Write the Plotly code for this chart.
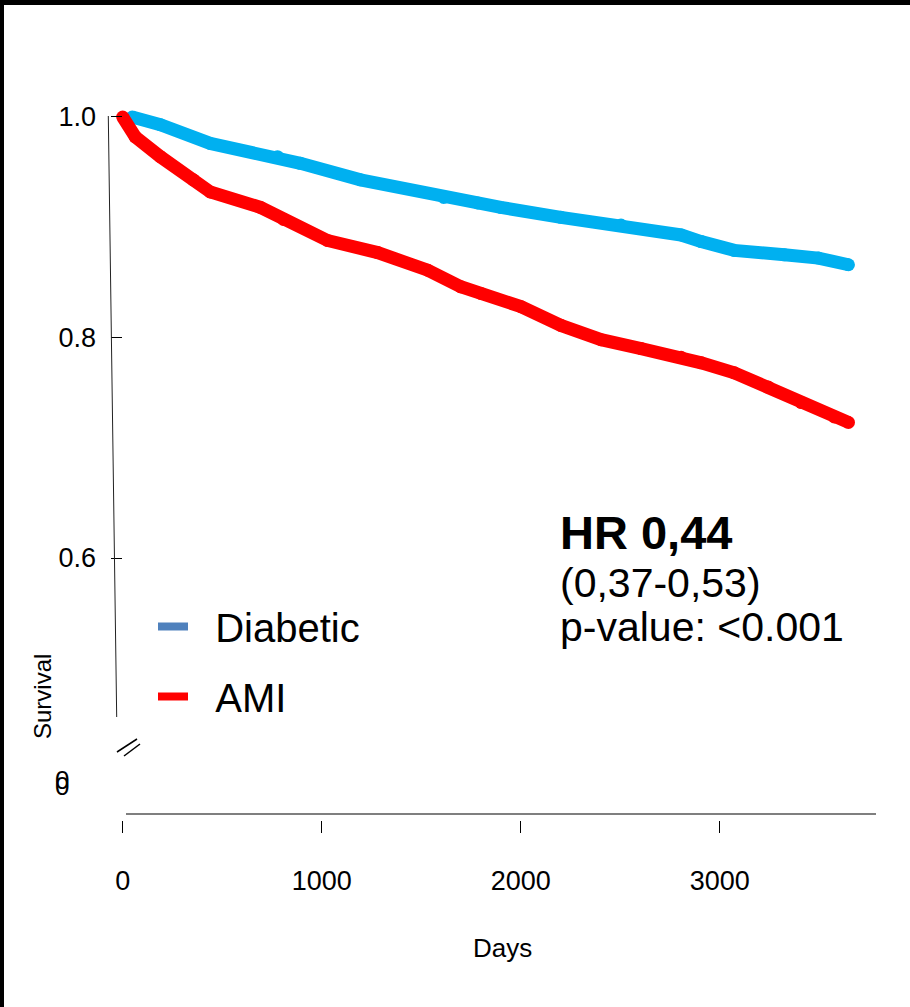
import plotly.graph_objects as go

# Kaplan-Meier style survival curves
days_diabetic = [48, 189, 440, 778, 893, 1195, 1613, 1784, 1900, 2202, 2504, 2806, 2907, 3073, 3325, 3496, 3647]
surv_diabetic = [1.000, 0.993, 0.976, 0.964, 0.958, 0.943, 0.927, 0.922, 0.918, 0.909, 0.902, 0.893, 0.887, 0.879, 0.875, 0.872, 0.866]

days_ami = [0, 63, 189, 355, 440, 692, 808, 1029, 1281, 1533, 1699, 1800, 2001, 2202, 2404, 2605, 2806, 2907, 3073, 3244, 3410, 3576, 3647]
surv_ami = [1.000, 0.982, 0.964, 0.943, 0.932, 0.918, 0.907, 0.888, 0.877, 0.861, 0.846, 0.840, 0.828, 0.811, 0.798, 0.790, 0.782, 0.777, 0.768, 0.755, 0.741, 0.728, 0.723]

x_ticks = [0, 1000, 2000, 3000]
y_ticks = [0.6, 0.8, 1.0]
y_tick_text = ["0.6", "0.8", "1.0"]

W, H = 910, 1007
FONT = "Arial, Liberation Sans, sans-serif"
BLUE = "#00B0F0"
RED = "#FF0000"
NBSP = "\u00a0"


def px(x):
    return x / W


def py(y):
    return 1 - y / H


fig = go.Figure()

fig.add_trace(go.Scatter(
    x=days_diabetic, y=surv_diabetic, mode="lines+markers",
    line=dict(color=BLUE, width=13), marker=dict(color=BLUE, size=13),
    showlegend=False, cliponaxis=False
))
fig.add_trace(go.Scatter(
    x=days_ami, y=surv_ami, mode="lines+markers",
    line=dict(color=RED, width=13), marker=dict(color=RED, size=13),
    showlegend=False, cliponaxis=False
))

# legend-only entries (legend swatch colours differ from the curves)
fig.add_trace(go.Scatter(
    x=[None], y=[None], mode="lines", name=NBSP * 2 + "Diabetic", legendgroup="a",
    line=dict(color="#4F81BD", width=8)
))
fig.add_trace(go.Scatter(
    x=[None], y=[None], mode="lines", name=NBSP * 2 + "AMI", legendgroup="b",
    line=dict(color=RED, width=8)
))

shapes = [
    # frame edges (top / left)
    dict(type="rect", xref="paper", yref="paper", x0=0, x1=1, y0=py(5), y1=1,
         fillcolor="black", line=dict(width=0)),
    dict(type="rect", xref="paper", yref="paper", x0=0, x1=px(4), y0=0, y1=1,
         fillcolor="black", line=dict(width=0)),
    # slanted y axis line
    dict(type="line", xref="paper", yref="paper", x0=px(108.3), y0=py(116), x1=px(116.7), y1=py(717),
         line=dict(color="#222", width=1)),
    # axis break marks
    dict(type="line", xref="paper", yref="paper", x0=px(117), y0=py(752), x1=px(137), y1=py(739),
         line=dict(color="black", width=1.5)),
    dict(type="line", xref="paper", yref="paper", x0=px(124), y0=py(756), x1=px(140), y1=py(744),
         line=dict(color="black", width=1.5)),
    # x axis line
    dict(type="line", xref="paper", yref="paper", x0=px(126), y0=py(814), x1=px(876), y1=py(814),
         line=dict(color="black", width=1.2)),
]

annotations = [
    dict(text="0", x=px(62), y=py(780), xref="paper", yref="paper", showarrow=False,
         xanchor="center", yanchor="middle", font=dict(size=26, color="black", family=FONT)),
    dict(text="0", x=px(62), y=py(786), xref="paper", yref="paper", showarrow=False,
         xanchor="center", yanchor="middle", font=dict(size=26, color="black", family=FONT)),
    dict(text="Days", x=px(502), y=py(948), xref="paper", yref="paper", showarrow=False,
         xanchor="center", yanchor="middle", font=dict(size=26, color="black", family=FONT)),
    dict(text="Survival", x=px(42), y=py(697), xref="paper", yref="paper", showarrow=False,
         textangle=-90, xanchor="center", yanchor="middle", font=dict(size=24, color="black", family=FONT)),
    dict(text="<b>HR 0,44</b>", x=px(558), y=py(532), xref="paper", yref="paper", showarrow=False,
         xanchor="left", yanchor="middle", font=dict(size=47, color="black", family=FONT)),
    dict(text="(0,37-0,53)", x=px(558), y=py(583), xref="paper", yref="paper", showarrow=False,
         xanchor="left", yanchor="middle", font=dict(size=41, color="black", family=FONT)),
    dict(text="p-value: <0.001", x=px(558), y=py(627), xref="paper", yref="paper", showarrow=False,
         xanchor="left", yanchor="middle", font=dict(size=41, color="black", family=FONT)),
]

fig.update_layout(
    width=W, height=H,
    margin=dict(l=0, r=0, t=0, b=0),
    paper_bgcolor="white", plot_bgcolor="white",
    font=dict(family=FONT, color="black"),
    shapes=shapes,
    annotations=annotations,
    legend=dict(
        x=px(153), y=py(594), xanchor="left", yanchor="top",
        font=dict(size=40, color="black", family=FONT),
        bgcolor="rgba(0,0,0,0)", traceorder="grouped", tracegroupgap=15,
        itemwidth=30
    ),
    xaxis=dict(
        domain=[px(100), px(880)], range=[-114.1, 3805.5],
        showline=False, showgrid=False, zeroline=False,
        tickvals=x_ticks, ticks="outside", ticklen=12, tickwidth=1, tickcolor="black",
        tickfont=dict(size=27, color="black", family=FONT), ticklabelstandoff=25
    ),
    yaxis=dict(
        domain=[py(820), py(100)], range=[0.3624, 1.0154],
        anchor="free", position=px(110),
        showline=False, showgrid=False, zeroline=False,
        tickvals=y_ticks, ticktext=y_tick_text, ticks="inside", ticklen=11, tickwidth=1, tickcolor="black",
        tickfont=dict(size=27, color="black", family=FONT), ticklabelstandoff=14
    ),
)

# drop the default page margin so the figure sits at the window's top-left corner
fig.write_html(
    "out.html",
    config={"displayModeBar": False},
    post_script="document.body.style.margin='0';",
)
